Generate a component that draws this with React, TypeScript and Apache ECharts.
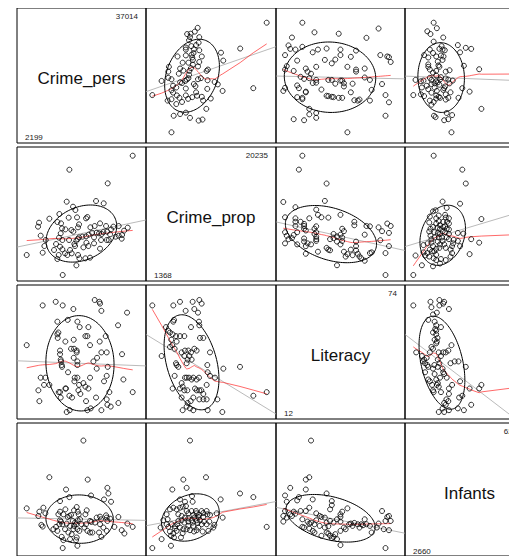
import React, { useEffect, useRef } from "react";
import * as echarts from "echarts";

const varNames = ["Crime_pers", "Crime_prop", "Literacy", "Infants"];
const varMin = [2199, 1368, 12, 2660];
const varMax = [37014, 20235, 74, 62486];

// [Crime_pers, Crime_prop]
const persProp: number[][] = [
  [37014,20235],[16215,18021],[28808,15861],[15339,12962],[24975,13067],[27494,12699],[17420,12172],[18186,11645],[12930,11012],[9645,10274],
  [15996,10432],[18734,10485],[21690,10327],[22128,10538],[6251,9642],[5922,9010],[12273,9747],[13478,9537],[19391,9378],[19062,8904],
  [17529,8219],[23114,8904],[24537,9115],[26289,9537],[28260,9115],[29903,8588],[30669,9010],[32421,9115],[35378,8851],[34173,8377],
  [33407,7112],[32421,7587],[31436,7429],[29574,7797],[28589,8219],[27384,8166],[26837,7850],[25961,7956],[25194,8061],[24318,7323],
  [23661,8061],[22566,7745],[21690,7481],[20486,7429],[19391,7323],[18953,7060],[18515,6796],[17858,6269],[16872,8483],[14901,8588],
  [13806,8746],[13368,7956],[12821,7270],[8441,6902],[8003,5953],[6798,7587],[7455,4899],[2199,4530],[11835,6269],[13149,5848],
  [13916,5426],[11178,5321],[12711,4530],[12273,3898],[14792,4794],[15558,4530],[16982,4794],[19062,4530],[19500,4003],[21471,4003],
  [23004,4108],[18515,2896],[14025,1368],[22457,5953],[21800,6480],[24318,6375],[26618,6902],[26289,5531],[28479,6902],[29136,6902],
  [20814,5742],[18077,5953],[16434,5321],[13916,6902],[16106,6902],[33516,7692]
];

// [Crime_pers, Literacy]
const persLit: number[][] = [
  [7455,71],[11726,73],[14025,71],[17529,69],[24537,74],[26070,73],[26289,72],[26727,68],[35159,67],[32202,60],
  [2199,49],[12273,62],[12602,56],[12273,55],[15668,63],[18843,62],[19610,59],[22457,59],[12383,53],[14901,51],
  [17639,52],[21471,54],[22128,54],[23004,49],[26180,51],[28151,54],[16763,47],[17748,47],[18624,45],[13149,46],
  [13149,44],[13368,41],[13478,40],[13697,38],[13806,37],[15777,34],[17639,42],[18843,40],[18843,38],[24099,40],
  [26727,45],[28479,45],[33516,44],[28808,37],[25194,36],[6798,31],[8331,31],[7893,27],[9645,27],[6032,24],
  [6360,18],[13149,23],[14901,25],[15120,25],[16215,21],[17091,20],[13368,20],[17967,31],[18843,31],[17858,29],
  [19391,27],[20814,28],[21471,26],[22457,25],[19172,24],[19829,22],[23004,31],[27603,29],[28479,32],[29355,23],
  [24975,20],[21690,18],[28479,19],[28698,16],[29793,15],[32312,17],[33954,30],[37014,23],[15339,12],[16325,13],
  [22128,13],[23223,14],[26727,13],[18624,46],[25304,42],[12711,23]
];

// [Crime_pers, Infants]
const persInf: number[][] = [
  [20814,62486],[9645,42057],[22238,40769],[15120,35246],[16215,31011],[13149,28802],[23333,31932],[28698,36166],[29027,33037],[27603,29723],
  [29903,28434],[2199,24752],[6360,22911],[7674,25120],[8331,21991],[6032,20518],[7017,15547],[7455,14627],[14901,24200],[18624,25488],
  [18953,22911],[21909,23647],[17748,23647],[12602,21438],[13149,22911],[14244,21438],[15668,19965],[16215,20518],[16763,21070],[17310,17756],
  [18077,16836],[18953,18124],[19719,18677],[21471,21438],[21690,15915],[23004,17756],[23442,17204],[25194,19597],[26289,20150],[26618,18677],
  [28260,20886],[28479,19597],[29574,19045],[28698,17756],[32312,19965],[35268,16283],[37014,14442],[30998,14442],[33407,12601],[34283,10760],
  [10959,13154],[11835,14442],[12273,12233],[12930,15915],[13478,17388],[13916,15915],[15339,16283],[15887,11313],[16982,10392],[17529,13154],
  [17748,14995],[18405,15915],[18843,13154],[19500,12233],[20267,15915],[21143,14074],[22128,12233],[23004,11313],[23771,11313],[25961,11313],
  [26727,8919],[28479,12233],[13697,8919],[14244,7078],[16434,7631],[18405,7078],[18624,8551],[18843,3949],[14025,2660],[13149,18124],
  [19281,21438],[24647,16836],[26289,15915],[16434,14995],[27384,14074],[14792,13154]
];

// [Crime_prop, Literacy]
const propLit: number[][] = [
  [1368,71],[4833,71],[5933,73],[6868,68],[8023,73],[8298,69],[8903,67],[9123,74],[9508,72],[4943,63],
  [4833,62],[3623,59],[4008,57],[4283,56],[4723,55],[5273,54],[4503,52],[5383,51],[4668,49],[5053,47],
  [5933,54],[6648,54],[7748,59],[9068,62],[9123,60],[9783,53],[10883,45],[10443,38],[13083,36],[15833,37],
  [18033,21],[20235,23],[2908,43],[6208,45],[6758,46],[7308,46],[7748,45],[7473,43],[7858,41],[7198,41],
  [8298,47],[8683,46],[6648,43],[5273,39],[5383,38],[10498,34],[10883,32],[11708,31],[6758,31],[7033,31],
  [7418,31],[7858,30],[8133,31],[8683,30],[9068,31],[6208,28],[6373,26],[5933,25],[6648,24],[7143,24],
  [4723,25],[8408,25],[8683,24],[9123,24],[9453,24],[9783,22],[10333,27],[6208,20],[8133,20],[9123,19],
  [9783,19],[10333,19],[12093,19],[7693,18],[7198,17],[7033,15],[6373,13],[7583,14],[8133,13],[10498,13],
  [12918,12],[5658,37],[4283,48],[7033,39],[9233,53],[5053,32]
];

// [Crime_prop, Infants]
const propInf: number[][] = [
  [7583,62486],[6483,40769],[7033,36166],[4668,35246],[10223,42057],[7913,31564],[12643,29723],[15833,33037],[18033,31011],[20235,14442],
  [1368,2660],[2908,7631],[4448,3949],[3898,18677],[3733,15915],[4008,14442],[4283,11865],[4448,9472],[4943,8551],[5108,13522],
  [5493,15915],[5658,17756],[6208,18124],[6098,8551],[4283,24200],[5383,24200],[4833,25120],[5933,25120],[6373,25673],[6758,28434],
  [6923,26041],[5933,29723],[8023,28434],[7033,23279],[7308,21991],[7858,23279],[8133,21070],[8573,23279],[8683,21991],[9068,21070],
  [9508,23279],[9783,22175],[10333,23279],[10443,21438],[10883,21070],[11983,21991],[12973,19597],[11598,15547],[6208,20518],[6758,19597],
  [7308,19229],[7858,18124],[8298,19597],[8683,18124],[8848,16652],[9233,18124],[9508,15915],[9893,17388],[10333,15915],[10773,17388],
  [4558,15915],[5108,14811],[5933,14074],[6483,13154],[7033,13154],[7583,12601],[8243,11865],[8683,12601],[9673,11865],[10608,12233],
  [3183,18124],[2743,14074],[4833,10760],[5383,12233],[6373,10945],[7308,14995],[8133,14995],[8958,14074],[11433,14074],[8023,16836],
  [6648,16836],[8958,19965],[7308,17388],[3733,21438],[5658,21438],[9783,19965]
];

// [Literacy, Infants]
const litInf: number[][] = [
  [28,62486],[25,40769],[27,42057],[25,35246],[16,36166],[37,33037],[29,29723],[13,31932],[14,28434],[20,29170],
  [21,31011],[40,28802],[40,26593],[39,24200],[49,24752],[46,22911],[45,21438],[45,19965],[12,20518],[13,23279],
  [14,19597],[12,17388],[16,21438],[18,22911],[19,21806],[17,20518],[22,23279],[23,18677],[25,23279],[27,25120],
  [31,21991],[33,20518],[34,19965],[36,19597],[37,16836],[38,14811],[39,17756],[41,16836],[43,18677],[26,17388],
  [27,16283],[28,16836],[30,15915],[23,14442],[24,14074],[27,13522],[29,12233],[30,11313],[33,14995],[36,14074],
  [38,10760],[39,9472],[40,8183],[41,8919],[43,7631],[42,10392],[45,4317],[45,12233],[47,14074],[48,13154],
  [50,15915],[51,16283],[52,14995],[53,16652],[55,15915],[56,14074],[57,15915],[58,15363],[59,18677],[60,15915],
  [62,14995],[63,11313],[66,14074],[67,16283],[69,23279],[70,13154],[71,17756],[72,19965],[73,20518],[74,17756],
  [73,12601],[71,2660],[34,9472],[37,11313],[31,18124],[45,17388]
];

const pairData: Record<string, number[][]> = {
  "1-0": persProp,
  "2-0": persLit,
  "3-0": persInf,
  "2-1": propLit,
  "3-1": propInf,
  "3-2": litInf,
};

// layout (px, relative to chart container)
const panelX = [9, 138, 268, 397];
const panelW = [129, 130, 129, 129];
const panelY = [0, 139, 277, 415];
const panelH = [135, 134, 134, 134];
const colPad = [[9.7, 13.3], [6.3, 9.3], [7.3, 14.3], [8.3, 17.3]]; // left, right
const rowPad = [[10.7, 14.7], [6, 8.7], [7, 15], [8, 17.7]]; // bottom, top

function colRange(v: number) {
  const [lo, hi] = colPad[v];
  const u = (varMax[v] - varMin[v]) / (panelW[v] - lo - hi);
  return [varMin[v] - lo * u, varMax[v] + hi * u];
}
function rowRange(v: number) {
  const [lo, hi] = rowPad[v];
  const u = (varMax[v] - varMin[v]) / (panelH[v] - lo - hi);
  return [varMin[v] - lo * u, varMax[v] + hi * u];
}

function stats(pts: number[][]) {
  const n = pts.length;
  let mx = 0, my = 0;
  pts.forEach((p) => { mx += p[0]; my += p[1]; });
  mx /= n; my /= n;
  let sxx = 0, syy = 0, sxy = 0;
  pts.forEach((p) => {
    sxx += (p[0] - mx) ** 2; syy += (p[1] - my) ** 2; sxy += (p[0] - mx) * (p[1] - my);
  });
  return { mx, my, vxx: sxx / (n - 1), vyy: syy / (n - 1), vxy: sxy / (n - 1) };
}

function ellipse(pts: number[][], level = 0.68) {
  const { mx, my, vxx, vyy, vxy } = stats(pts);
  const r = Math.sqrt(-2 * Math.log(1 - level));
  const a = Math.sqrt(vxx);
  const b = vxy / a;
  const c = Math.sqrt(Math.max(vyy - b * b, 0));
  const out: number[][] = [];
  for (let i = 0; i <= 120; i++) {
    const t = (i / 120) * Math.PI * 2;
    out.push([mx + r * a * Math.cos(t), my + r * (b * Math.cos(t) + c * Math.sin(t))]);
  }
  return out;
}

function lowess(pts: number[][], f = 2 / 3, iter = 3) {
  const s = pts.slice().sort((p, q) => p[0] - q[0]);
  const n = s.length;
  const x = s.map((p) => p[0]);
  const y = s.map((p) => p[1]);
  const ns = Math.max(2, Math.min(n, Math.round(f * n)));
  const rw = new Array(n).fill(1);
  const ys = new Array(n).fill(0);
  for (let it = 0; it <= iter; it++) {
    for (let i = 0; i < n; i++) {
      const d = x.map((xx) => Math.abs(xx - x[i]));
      const sd = d.slice().sort((p, q) => p - q);
      const h = Math.max(sd[ns - 1], 1e-12);
      let sw = 0, swx = 0, swy = 0;
      const w = new Array(n).fill(0);
      for (let j = 0; j < n; j++) {
        const u = d[j] / h;
        if (u < 1) {
          w[j] = Math.pow(1 - u * u * u, 3) * rw[j];
          sw += w[j]; swx += w[j] * x[j]; swy += w[j] * y[j];
        }
      }
      if (sw <= 0) { ys[i] = y[i]; continue; }
      const xb = swx / sw, yb = swy / sw;
      let num = 0, den = 0;
      for (let j = 0; j < n; j++) {
        if (w[j] > 0) { num += w[j] * (x[j] - xb) * (y[j] - yb); den += w[j] * (x[j] - xb) ** 2; }
      }
      const slope = den > 1e-9 * (h * h) ? num / den : 0;
      ys[i] = yb + slope * (x[i] - xb);
    }
    if (it === iter) break;
    const res = y.map((yy, i) => yy - ys[i]);
    const ar = res.map(Math.abs).sort((p, q) => p - q);
    const m = (ar[Math.floor((n - 1) / 2)] + ar[Math.ceil((n - 1) / 2)]) / 2;
    if (m === 0) break;
    for (let i = 0; i < n; i++) {
      const u = Math.abs(res[i]) / (6 * m);
      rw[i] = u < 1 ? (1 - u * u) ** 2 : 0;
    }
  }
  return x.map((xx, i) => [xx, ys[i]]);
}

function buildOption() {
  const grid: any[] = [];
  const xAxis: any[] = [];
  const yAxis: any[] = [];
  const series: any[] = [];
  const graphic: any[] = [];
  const font = "'Liberation Sans', Arial, Helvetica, sans-serif";

  for (let r = 0; r < 4; r++) {
    for (let c = 0; c < 4; c++) {
      const gi = r * 4 + c;
      grid.push({
        left: panelX[c], top: panelY[r], width: panelW[c], height: panelH[r],
        show: true, borderColor: "#000", borderWidth: 1, backgroundColor: "transparent",
      });
      const xr = colRange(c);
      const yr = rowRange(r);
      xAxis.push({ type: "value", gridIndex: gi, min: xr[0], max: xr[1], show: false, splitLine: { show: false } });
      yAxis.push({ type: "value", gridIndex: gi, min: yr[0], max: yr[1], show: false, splitLine: { show: false } });

      if (r === c) {
        const cx = panelX[c] + panelW[c] / 2;
        const cy = panelY[r] + panelH[r] / 2 + 3;
        graphic.push({
          type: "text", x: cx, y: cy,
          style: { text: varNames[r], font: `17px ${font}`, fill: "#111", align: "center", verticalAlign: "middle" },
        });
        graphic.push({
          type: "text", x: panelX[c] + panelW[c] - 8, y: panelY[r] + 8.5,
          style: { text: String(varMax[r]), font: `8px ${font}`, fill: "#222", align: "right", verticalAlign: "middle" },
        });
        graphic.push({
          type: "text", x: panelX[c] + 8, y: panelY[r] + panelH[r] - 6,
          style: { text: String(varMin[r]), font: `8px ${font}`, fill: "#222", align: "left", verticalAlign: "middle" },
        });
        continue;
      }

      const pts = r > c
        ? pairData[`${r}-${c}`]
        : pairData[`${c}-${r}`].map((p) => [p[1], p[0]]);

      const st = stats(pts);
      const slope = st.vxy / st.vxx;
      const icpt = st.my - slope * st.mx;
      series.push({
        type: "line", xAxisIndex: gi, yAxisIndex: gi, silent: true, showSymbol: false, symbol: "none",
        data: [[xr[0], icpt + slope * xr[0]], [xr[1], icpt + slope * xr[1]]],
        lineStyle: { color: "#a8a8a8", width: 0.8 }, clip: true, z: 2,
      });
      series.push({
        type: "line", xAxisIndex: gi, yAxisIndex: gi, silent: true, showSymbol: false, symbol: "none",
        data: lowess(pts), lineStyle: { color: "#ff2020", width: 0.8, opacity: 0.85 }, clip: true, z: 3,
      });
      series.push({
        type: "line", xAxisIndex: gi, yAxisIndex: gi, silent: true, showSymbol: false, symbol: "none",
        data: ellipse(pts), lineStyle: { color: "#000", width: 1 }, clip: true, z: 4,
      });
      series.push({
        type: "scatter", xAxisIndex: gi, yAxisIndex: gi, silent: true, symbol: "circle", symbolSize: 5,
        data: pts, itemStyle: { color: "rgba(0,0,0,0)", borderColor: "#000", borderWidth: 1 }, clip: true, z: 5,
      });
    }
  }

  return {
    animation: false,
    backgroundColor: "#fff",
    grid, xAxis, yAxis, series, graphic,
  };
}

export default function App() {
  const ref = useRef<HTMLDivElement>(null);
  useEffect(() => {
    document.body.style.overflow = "hidden";
    if (!ref.current) return;
    const chart = echarts.init(ref.current, undefined, { renderer: "svg" });
    chart.setOption(buildOption() as any);
    return () => chart.dispose();
  }, []);
  return (
    <div style={{ width: 509, height: 548, overflow: "hidden" }}>
      <div ref={ref} style={{ width: 545, height: 548 }} />
    </div>
  );
}
